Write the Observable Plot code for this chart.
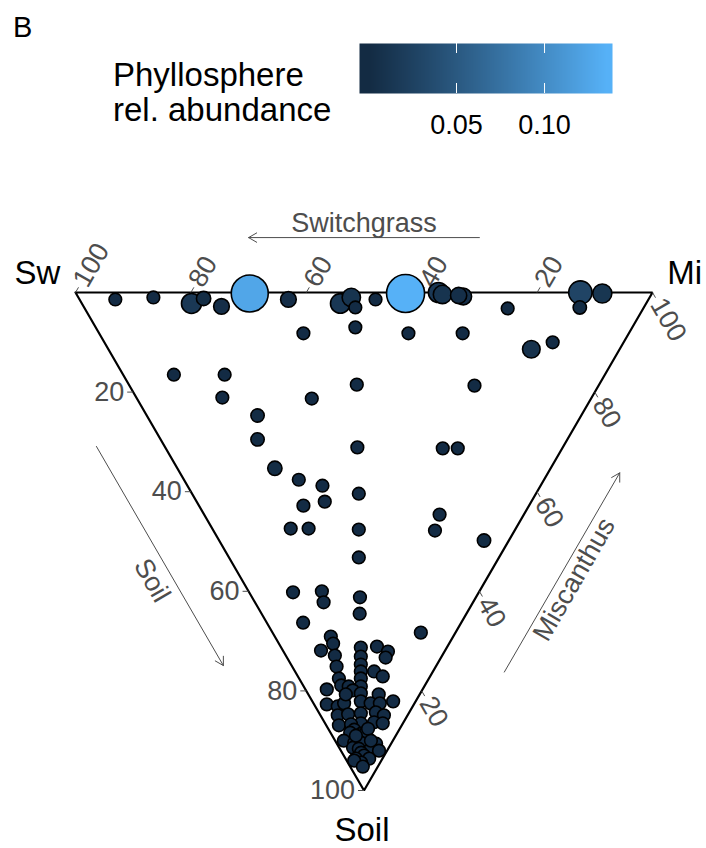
<!DOCTYPE html>
<html><head><meta charset="utf-8">
<script src="https://cdn.jsdelivr.net/npm/d3@7"></script>
<script src="https://cdn.jsdelivr.net/npm/@observablehq/plot@0.6"></script>
<style>
body{margin:0;background:#fff;font-family:"Liberation Sans",Arial,Helvetica,sans-serif;}
#wrap{position:relative;width:706px;height:848px;overflow:hidden;}
#head{position:relative;width:706px;height:180px;}
.abs{position:absolute;white-space:nowrap;color:#000;}
</style></head><body>
<div id="wrap">
  <div id="head">
    <div class="abs" style="left:13px;top:13px;font-size:29px;line-height:29px">B</div>
    <div class="abs" style="left:113px;top:57px;font-size:33px;line-height:35px">Phyllosphere</div>
    <div class="abs" style="left:113px;top:92px;font-size:33px;line-height:35px">rel. abundance</div>
    <div id="legend" style="position:absolute;left:329px;top:43px"></div>
  </div>
  <div id="chart"></div>
</div>
<script>
// Composition of each taxon (percent): Soil and Miscanthus; Switchgrass = 100 - Soil - Miscanthus
const soilPct = [1.4,1.0,2.2,1.2,2.8,0.2,1.4,2.2,1.0,3.0,1.4,0.2,0,0.4,0.6,0.8,3.2,0,3.0,0.2,
  8.2,7.0,8.2,8.2,11.4,10.0,
  16.5,16.5,21.1,18.5,21.3,18.7,24.7,29.5,31.1,31.3,31.3,35.3,37.6,38.8,42.0,42.8,40.4,47.4,47.4,47.6,44.6,47.8,49.8,53.2,60.2,60.0,62.2,61.2,64.5,66.3,68.3,
  69.1,70.5,71.9,72.9,75.1,71.3,73.1,74.7,76.1,77.5,79.1,71.1,72.1,73.3,76.1,77.1,77.5,78.9,79.1,79.7,79.9,80.7,80.5,82.1,82.7,83.1,82.5,82.5,82.5,82.1,84.9,84.7,84.5,86.5,84.3,84.9,86.3,86.5,86.9,86.7,87.8,88.4,88.6,88.4,87.6,90.0,90.4,90.4,90.6,91.4,91.6,92.0,92.0,92.4,93.0,93.6,93.6,94.4,94.0,95.2,80.7,89.0,90.0];
const miscanthusPct = [6.2,13.0,19.0,21.6,23.9,30.1,36.2,44.8,47.3,47.0,51.3,57.1,62.9,63.4,66.1,66.8,73.3,87.5,85.9,91.2,
  35.4,45.0,53.6,63.0,73.3,77.7,
  8.8,17.6,14.9,39.5,30.3,59.8,19.2,16.8,33.3,48.0,50.6,16.9,19.9,23.4,22.2,18.1,28.9,13.6,16.7,25.3,40.8,38.4,45.9,22.5,7.6,12.7,11.9,18.7,17.0,6.3,25.7,
  9.7,9.4,6.6,8.5,7.7,13.8,12.9,12.1,11.4,10.7,9.9,16.7,18.1,17.1,13.7,14.7,6.9,6.6,7.8,3.7,8.1,12.2,9.2,8.4,2.2,3.9,5.3,9.9,11.5,14.0,3.0,4.9,7.2,6.2,9.9,11.0,8.6,10.0,2.2,4.4,4.4,3.4,5.2,6.1,6.9,1.5,3.1,4.3,6.8,2.4,3.3,4.9,6.6,3.3,3.5,1.8,4.1,2.3,1.3,2.2,6.5,4.1,6.2];
const abundance = [0.0005,0.0005,0.015,0.002,0.004,0.125,0.004,0.014,0.010,0.0005,0.0005,0.135,0.015,0.010,0.005,0.006,0.0005,0.028,0.001,0.012,
  0.0005,0.0005,0.0005,0.0005,0.008,0.0005,
  0.0005,0.0005,0.0005,0.0005,0.0005,0.0005,0.001,0.001,0.0005,0.0005,0.0005,0.002,0.0005,0.0005,0.0005,0.0005,0.0005,0.0005,0.0005,0.0005,0.0005,0.0005,0.001,0.0005,0.0005,0.0005,0.0005,0.0005,0.0005,0.0005,0.0005,
  0.0005,0.0005,0.0005,0.0005,0.0005,0.0005,0.0005,0.0005,0.0005,0.0005,0.0005,0.0005,0.0005,0.0005,0.0005,0.0005,0.0005,0.0005,0.0005,0.0005,0.0005,0.0005,0.0005,0.0005,0.0005,0.0005,0.0005,0.0005,0.0005,0.0005,0.0005,0.0005,0.0005,0.0005,0.0005,0.0005,0.0005,0.0005,0.0005,0.0005,0.0005,0.0005,0.0005,0.0005,0.0005,0.0005,0.0005,0.0005,0.0005,0.0005,0.0005,0.0005,0.0005,0.0005,0.0005,0.0005,0.0005,0.0005,0.0005,0.0005,0.0005,0.0005,0.0005,0.0005,0.0005,0.0005];
const axisTicks = [20, 40, 60, 80, 100];
const legendTicks = [0.05, 0.10];
const vertexNames = ["Sw", "Mi", "Soil"];
const axisTitles = ["Switchgrass", "Soil", "Miscanthus"];

const FONT = "'Liberation Sans', Arial, Helvetica, sans-serif";
const GREY = "#4d4d4d";
const S3 = Math.sqrt(3) / 2;
const U = 1 / 576; // one pixel in data units
const toX = c => (c.mi + c.soil / 2) / 100;
const toY = c => c.soil / 100 * S3;

const colorScale = {type: "linear", domain: [0, 0.135], range: ["#132B43", "#56B1F7"], interpolate: "lab", clamp: true};

const points = soilPct.map((s, i) => ({soil: s, mi: miscanthusPct[i], sw: 100 - s - miscanthusPct[i], ab: abundance[i]}));

// triangle outline
const corners = [{sw:100, mi:0, soil:0}, {sw:0, mi:100, soil:0}, {sw:0, mi:0, soil:100}];
const outline = [...corners, corners[0]].map(c => ({x: toX(c), y: toY(c)}));

// edges: Soil axis (left), Switchgrass axis (top), Miscanthus axis (right)
const edges = [
  {key: "Soil", at: v => ({sw: 100 - v, mi: 0, soil: v}), dir: [-1, 0], normal: [-S3, 0.5], a0: 25, a1: 69, off: 59, titleOff: 78, titleRotate: 60, title: axisTitles[1]},
  {key: "Sw", at: v => ({sw: v, mi: 100 - v, soil: 0}), dir: [0.5, -S3], normal: [0, -1], a0: 30, a1: 70, off: 55, titleOff: 69, titleRotate: 0, title: axisTitles[0]},
  {key: "Mi", at: v => ({sw: 0, mi: v, soil: 100 - v}), dir: [0.5, S3], normal: [S3, 0.5], a0: 30, a1: 70, off: 62, titleOff: 76, titleRotate: -60, title: axisTitles[2]}
];

const tickRows = [], labelRows = {Soil: [], Sw: [], Mi: []}, arrowRows = [], titleRows = [];
for (const e of edges) {
  for (const v of axisTicks) {
    const c = e.at(v), x = toX(c), y = toY(c);
    tickRows.push({x1: x, y1: y, x2: x + e.dir[0] * 6 * U, y2: y + e.dir[1] * 6 * U});
    labelRows[e.key].push({x: x + e.dir[0] * 9 * U, y: y + e.dir[1] * 9 * U, text: String(v)});
  }
  const p0 = e.at(e.a0), p1 = e.at(e.a1), pm = e.at(50);
  arrowRows.push({
    x1: toX(p0) + e.normal[0] * e.off * U, y1: toY(p0) + e.normal[1] * e.off * U,
    x2: toX(p1) + e.normal[0] * e.off * U, y2: toY(p1) + e.normal[1] * e.off * U
  });
  titleRows.push({x: toX(pm) + e.normal[0] * e.titleOff * U, y: toY(pm) + e.normal[1] * e.titleOff * U, text: e.title, rotate: e.titleRotate});
}

const vertexOffsets = [[-38, -19], [32, -19], [-2, 40]];
const vertexRows = corners.map((c, i) => ({x: toX(c) + vertexOffsets[i][0] * U, y: toY(c) + vertexOffsets[i][1] * U, text: vertexNames[i]}));

const chart = Plot.plot({
  width: 706, height: 668,
  x: {domain: [0, 1], range: [75, 652], axis: null},
  y: {domain: [0, S3], range: [112, 610], axis: null},
  color: colorScale,
  r: {type: "sqrt", domain: [0, 0.135], range: [5.5, 19]},
  style: {fontFamily: FONT, background: "white", overflow: "visible"},
  marks: [
    Plot.line(outline, {x: "x", y: "y", stroke: "black", strokeWidth: 2.2, strokeLinejoin: "miter"}),
    Plot.link(tickRows, {x1: "x1", y1: "y1", x2: "x2", y2: "y2", stroke: GREY, strokeWidth: 1}),
    Plot.text(labelRows.Soil, {x: "x", y: "y", text: "text", textAnchor: "end", fontSize: 27, fill: GREY}),
    Plot.text(labelRows.Sw, {x: "x", y: "y", text: "text", textAnchor: "start", rotate: -60, fontSize: 27, fill: GREY}),
    Plot.text(labelRows.Mi, {x: "x", y: "y", text: "text", textAnchor: "start", rotate: 60, fontSize: 27, fill: GREY}),
    Plot.arrow(arrowRows, {x1: "x1", y1: "y1", x2: "x2", y2: "y2", stroke: GREY, strokeWidth: 1, headLength: 14, headAngle: 60}),
    Plot.text(titleRows, {x: "x", y: "y", text: "text", rotate: "rotate", fontSize: 27, fill: GREY}),
    Plot.dot(points, {x: toX, y: toY, r: "ab", fill: "ab", stroke: "black", strokeWidth: 1.6}),
    Plot.text(vertexRows, {x: "x", y: "y", text: "text", fontSize: 33, fill: "black"})
  ]
});
document.getElementById("chart").appendChild(chart);

const legendLo = -0.0051, legendHi = 0.1386;
const legend = Plot.plot({
  width: 313, height: 100,
  marginLeft: 30, marginRight: 30, marginTop: 0, marginBottom: 50,
  x: {domain: [legendLo, legendHi], axis: null},
  y: {domain: [0, 1], range: [0, 50], axis: null},
  color: colorScale,
  style: {fontFamily: FONT, background: "transparent", overflow: "visible"},
  marks: [
    Plot.raster({x1: legendLo, x2: legendHi, y1: 0, y2: 1, fill: (x, y) => x, pixelSize: 1}),
    Plot.ruleX(legendTicks, {y1: 0, y2: 0.2, stroke: "white", strokeWidth: 1}),
    Plot.ruleX(legendTicks, {y1: 0.8, y2: 1, stroke: "white", strokeWidth: 1}),
    Plot.text(legendTicks, {x: d => d, y: 1, dy: 32, text: d => d.toFixed(2), fontSize: 27, fill: "black"})
  ]
});
document.getElementById("legend").appendChild(legend);
</script>
</body></html>
